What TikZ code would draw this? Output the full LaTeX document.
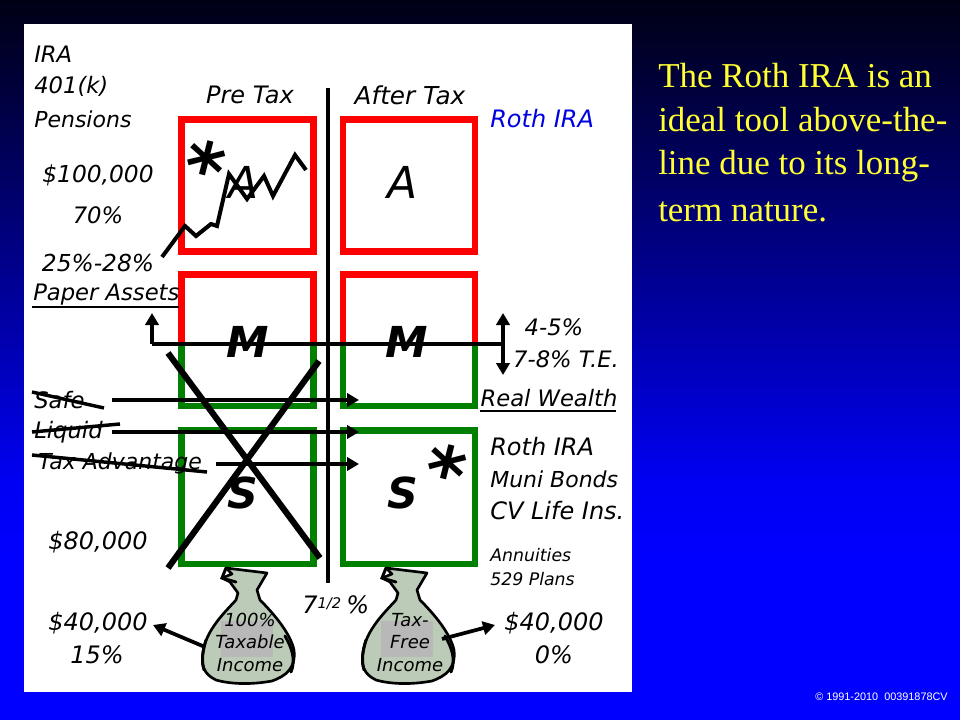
\documentclass[tikz,border=0pt]{standalone}
\usepackage{fontspec}
\setmainfont{DejaVu Sans}
\newfontfamily\titlefont{Liberation Serif}
\newfontfamily\smallfont{Liberation Sans}
\usetikzlibrary{arrows.meta}
\definecolor{boxred}{HTML}{FF0000}
\definecolor{boxgreen}{HTML}{007F00}
\definecolor{bagfill}{HTML}{BCCBB8}
\definecolor{baggray}{HTML}{B8B8B8}
\definecolor{rothblue}{HTML}{0000E0}
\definecolor{titleyellow}{HTML}{FFFF33}
\pgfdeclareverticalshading{bgshade}{100bp}{
 rgb(0bp)=(0,0,1);
 rgb(36bp)=(0,0,1);
 rgb(41.67bp)=(0,0,0.95);
 rgb(58.33bp)=(0,0,0.5);
 rgb(75bp)=(0,0,0.08);
 rgb(100bp)=(0,0,0.08)}
\tikzset{
 hand/.style={font=\itshape\fontsize{#1}{#1}\selectfont,inner sep=0pt,text=black},
 hand/.default=17,
 lft/.style={hand,anchor=west},
 ctr/.style={hand},
 biglet/.style={font=\bfseries\itshape\fontsize{32}{32}\selectfont,inner sep=0pt},
 star/.style={font=\bfseries\fontsize{56}{56}\selectfont,inner sep=0pt,rotate=-14},
 heavy/.style={line width=3pt,draw=black},
 redbox/.style={draw=boxred,line width=5.2pt},
 greenbox/.style={draw=boxgreen,line width=5.2pt},
 strike/.style={draw=black,line width=2.6pt},
 crossbar/.style={draw=black,line width=4.6pt},
 arr/.style={draw=black,line width=2.8pt,-{Triangle[length=9pt,width=10pt]}},
 arrb/.style={draw=black,line width=2.8pt,{Triangle[length=9pt,width=10pt]}-{Triangle[length=9pt,width=10pt]}},
 underl/.style={draw=black,line width=1.5pt},
 bagtext/.style={hand=13.5},
 titleline/.style={anchor=west,inner sep=0pt,text=titleyellow,font=\titlefont\fontsize{26.2}{26.2}\selectfont},
}
\newcommand{\moneybag}[1]{%
 \begin{scope}[xshift=#1*0.75pt]
  \fill[bagfill,draw=black,line width=2pt,line join=round]
   (226,568) -- (267,573) -- (257,590) -- (260,600)
   .. controls (272,612) and (290,632) .. (294,650)
   .. controls (296,668) and (286,676) .. (272,681)
   .. controls (250,685) and (230,684) .. (216,680)
   .. controls (203,674) and (201,664) .. (203,652)
   .. controls (206,630) and (225,612) .. (236,600)
   -- (238,593) -- (230,582) -- (222,578) -- (232,574) -- cycle;
  \fill[baggray] (221,621) rectangle (273,657);
  \draw[black,line width=2.2pt,line cap=round] (206,640) .. controls (203,650) and (201,660) .. (204,670);
  \draw[black,line width=2.2pt,line cap=round] (285,636) .. controls (292,648) and (296,660) .. (291,672);
  \draw[black,line width=2.2pt,line cap=round] (226,568) -- (222,578) -- (236,582);
 \end{scope}}
\begin{document}
\begin{tikzpicture}[x=0.75pt,y=-0.75pt]
\useasboundingbox (0,0) rectangle (960,720);
\shade[shading=bgshade] (0,0) rectangle (960,720);
\fill[white] (24,24) rectangle (632,692);
% boxes
\draw[redbox] (181.5,119.5) rectangle (313.5,251.5);
\draw[redbox] (343,119.5) rectangle (475,251.5);
\draw[greenbox] (181.5,343) -- (181.5,406) -- (313.5,406) -- (313.5,343);
\draw[greenbox] (343,343) -- (343,406) -- (475,406) -- (475,343);
\draw[redbox] (181.5,344) -- (181.5,274.5) -- (313.5,274.5) -- (313.5,344);
\draw[redbox] (343,344) -- (343,274.5) -- (475,274.5) -- (475,344);
\draw[greenbox] (181.5,430.5) rectangle (313.5,564);
\draw[greenbox] (343,430.5) rectangle (475,564);
% bags
\moneybag{0}
\moneybag{160}
% texts left
\node[lft] (ira) at (34,54) {IRA};
\node[lft] (k) at (34,86) {401(k)};
\node[lft,hand=16.5] (pens) at (34,119) {Pensions};
\node[ctr,hand=18] (pre) at (250,95) {Pre Tax};
\node[ctr,hand=18.5] (after) at (410,95) {After Tax};
\node[lft,hand=18,text=rothblue] (roth) at (490,119) {Roth IRA};
\node[ctr,hand=17.5] (hund) at (98,175) {\$100,000};
\node[ctr] (seventy) at (98,215) {70\%};
\node[ctr,hand=17.5] (tw) at (98,263) {25\%-28\%};
\node[lft] (paper) at (33,295) {Paper Assets};
\node[lft] (safe) at (34,400) {Safe};
\node[lft] (liquid) at (34,432) {Liquid};
\node[lft,hand=16.5] (taxadv) at (38,463) {Tax Advantage};
\node[ctr,hand=18] (eighty) at (98,542) {\$80,000};
\node[ctr,hand=18] (forty) at (98,623) {\$40,000};
\node[ctr,hand=18] (fifteen) at (97,655) {15\%};
\node[ctr,hand=18] (fortyb) at (554,623) {\$40,000};
\node[ctr,hand=18] (zero) at (554,655) {0\%};
\node[ctr,anchor=west,hand=18] (seven) at (302,605) {7\raisebox{4pt}{\fontsize{11}{11}\selectfont 1/2}\hspace{4pt}\%};
\node[ctr] (four) at (554,327) {4-5\%};
\node[ctr] (te) at (566,359) {7-8\% T.E.};
\node[ctr,hand=17] (real) at (549,398) {Real Wealth};
\node[lft,hand=18] (rothb) at (490,447) {Roth IRA};
\node[lft,hand=16.5] (muni) at (490,479) {Muni Bonds};
\node[lft,hand=18] (cv) at (490,511) {CV Life Ins.};
\node[lft,hand=13] (ann) at (490,555) {Annuities};
\node[lft,hand=13] (plans) at (490,579) {529 Plans};
\node[bagtext] (ba) at (250,620) {100\%};
\node[bagtext] (bb) at (250,642) {Taxable};
\node[bagtext] (bc) at (250,665) {Income};
\node[bagtext] (bd) at (410,620) {Tax-};
\node[bagtext] (be) at (410,642) {Free};
\node[bagtext] (bf) at (410,665) {Income};
% big letters
\node[biglet,font=\itshape\fontsize{33}{33}\selectfont] (a1) at (244,182) {A};
\node[biglet,font=\itshape\fontsize{33}{33}\selectfont] (a2) at (403,182) {A};
\node[biglet] (m1) at (248,342) {M};
\node[biglet] (m2) at (407,342) {M};
\node[biglet] (s1) at (243,493) {S};
\node[biglet] (s2) at (403,493) {S};
\node[star] (st1) at (204,168) {*};
\node[star] (st2) at (445,472) {*};
% lines
\coordinate (v1) at (328,88); \coordinate (v2) at (328,583);
\draw[heavy] (v1) -- (v2);
\coordinate (h1) at (152,344); \coordinate (h2) at (503,344);
\coordinate (h1t) at (152,313);
\draw[arr] (h1) -- (h1t);
\draw[heavy] (h1) -- (h2);
\coordinate (u1) at (503,313); \coordinate (u2) at (503,375);
\draw[arrb] (u1) -- (u2);
\coordinate (r) at (359,400); \coordinate (l) at (112,400);
\draw[arr] (l) -- (r);
\coordinate (r2) at (359,432); \coordinate (l2) at (112,432);
\draw[arr] (l2) -- (r2);
\coordinate (r3) at (359,464); \coordinate (l3) at (216,464);
\draw[arr] (l3) -- (r3);
\draw[crossbar] (168,353) coordinate (x1) -- (320,558) coordinate (x2);
\draw[crossbar] (319,361) coordinate (x3) -- (168,568) coordinate (x4);
\draw[strike] (32,392) coordinate (s1a) -- (104,408) coordinate (s1b);
\draw[strike] (32,432) coordinate (s2a) -- (120,424) coordinate (s2b);
\draw[strike] (32,455) coordinate (s3a) -- (207,472) coordinate (s3b);
\draw[underl] (32,307) coordinate (ul1) -- (179,307) coordinate (ul2);
\draw[underl] (480,411) coordinate (ul3) -- (616,411) coordinate (ul4);
% chart
\draw[draw=black,line width=3pt,line join=miter] (162,257) -- (185,226) -- (196,236) -- (211,224) -- (217,226) -- (229,174) -- (247,199) -- (264,176) -- (273,196) -- (295,155) -- (306,170);
% bag arrows
\coordinate (bl1) at (205,647); \coordinate (bl2) at (153,625);
\draw[arr] (bl1) -- (bl2);
\coordinate (br1) at (442,639); \coordinate (br2) at (495,625);
\draw[arr] (br1) -- (br2);
% title
\node[titleline] (t1) at (658,76) {The Roth IRA is an};
\node[titleline] (t2) at (658,120) {ideal tool above-the-};
\node[titleline] (t3) at (658,166) {line due to its long-};
\node[titleline] (t4) at (658,212) {term nature.};
\node[anchor=east,inner sep=0pt,text=white,font=\smallfont\fontsize{8.15}{8.15}\selectfont] (c) at (948,697) {© 1991-2010\ \ 00391878CV};
\end{tikzpicture}
\end{document}
